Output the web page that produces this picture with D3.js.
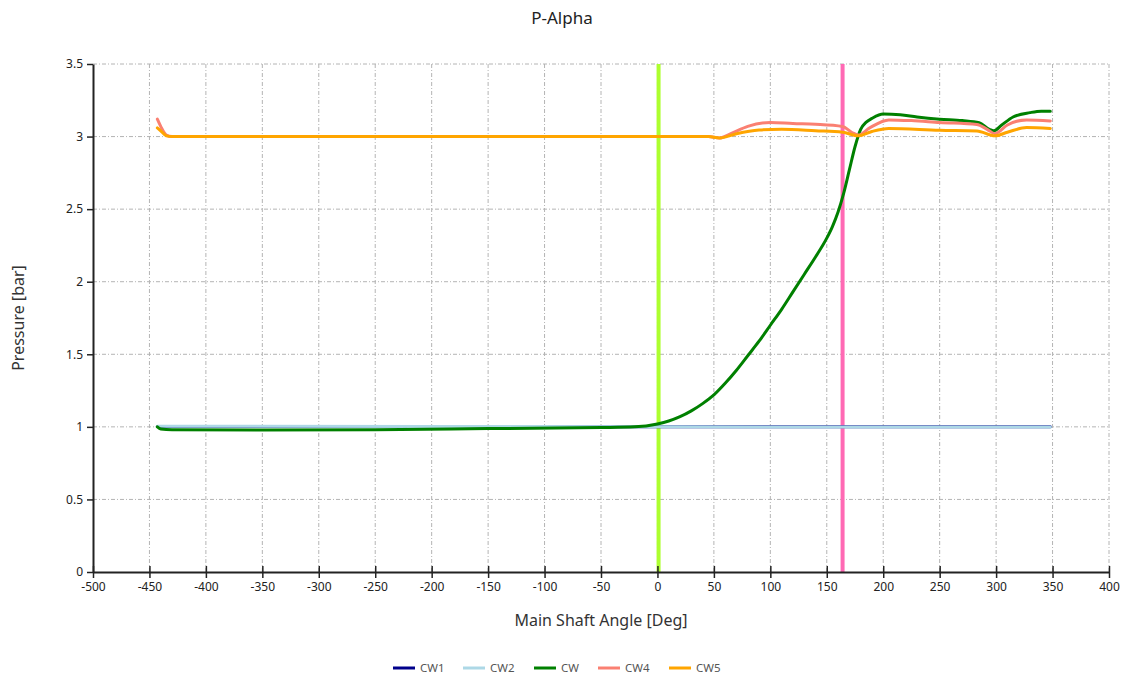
<!DOCTYPE html>
<html>
<head>
<meta charset="utf-8">
<script src="https://cdn.jsdelivr.net/npm/d3@7"></script>
<style>
  body { margin: 0; background: #fff; font-family: "Noto Sans", "Open Sans", sans-serif; }
</style>
</head>
<body>
<div id="chart"></div>
<script>
// data
const cw1Angle = [-443, -200, 0, 200, 348];
const cw1Value = [1.003, 1.002, 1.0, 1.0, 1.0];

const cw2Angle = [-443, -200, 0, 200, 348];
const cw2Value = [1.005, 1.003, 1.0, 0.999, 0.999];

const cwAngle = [-443, -440, -430, -350, -250, -150, -50, -20, 0, 10, 20, 30, 40, 50, 60, 70, 80, 90, 100, 110, 120, 130, 140, 150, 155, 160, 165, 170, 175, 180, 185, 190, 200, 215, 230, 250, 270, 285, 294, 298, 305, 315, 330, 340, 348];
const cwValue = [1.0, 0.985, 0.98, 0.978, 0.98, 0.988, 0.995, 1.0, 1.02, 1.04, 1.07, 1.11, 1.16, 1.22, 1.3, 1.39, 1.49, 1.59, 1.7, 1.81, 1.93, 2.05, 2.17, 2.3, 2.38, 2.48, 2.61, 2.77, 2.93, 3.05, 3.1, 3.125, 3.155, 3.15, 3.135, 3.12, 3.11, 3.095, 3.05, 3.04, 3.08, 3.135, 3.165, 3.175, 3.175];

const cw4Angle = [-443, -440, -435, -430, 45, 55, 65, 80, 100, 120, 140, 164, 172, 178, 188, 205, 225, 250, 283, 292, 299, 310, 327, 348];
const cw4Value = [3.12, 3.07, 3.01, 3.0, 3.0, 2.99, 3.02, 3.07, 3.097, 3.09, 3.085, 3.07, 3.03, 3.01, 3.06, 3.115, 3.11, 3.097, 3.083, 3.05, 3.02, 3.08, 3.115, 3.108];

const cw5Angle = [-443, -440, -435, -430, 45, 55, 70, 90, 110, 140, 164, 178, 190, 205, 250, 283, 299, 310, 327, 348];
const cw5Value = [3.06, 3.04, 3.005, 3.0, 3.0, 2.99, 3.02, 3.045, 3.05, 3.04, 3.03, 3.005, 3.035, 3.056, 3.044, 3.039, 3.005, 3.03, 3.062, 3.056];

const seriesNames = ["CW1", "CW2", "CW", "CW4", "CW5"];
const seriesColors = ["#00008b", "#add8e6", "#008000", "#fa8072", "#ffa500"];

const markerAngles = [1, 164];
const markerColors = ["#adff2f", "#ff69b4"];

const xTicks = d3.range(-500, 401, 50);
const yTicks = [0, 0.5, 1, 1.5, 2, 2.5, 3, 3.5];

const series = [
  { name: seriesNames[0], color: seriesColors[0], pts: cw1Angle.map((a, i) => ({ a, v: cw1Value[i] })) },
  { name: seriesNames[1], color: seriesColors[1], pts: cw2Angle.map((a, i) => ({ a, v: cw2Value[i] })) },
  { name: seriesNames[2], color: seriesColors[2], pts: cwAngle.map((a, i) => ({ a, v: cwValue[i] })) },
  { name: seriesNames[3], color: seriesColors[3], pts: cw4Angle.map((a, i) => ({ a, v: cw4Value[i] })) },
  { name: seriesNames[4], color: seriesColors[4], pts: cw5Angle.map((a, i) => ({ a, v: cw5Value[i] })) }
];

const W = 1125, H = 680;
const margin = { top: 64, right: 16, bottom: 108, left: 93 };
const width = W - margin.left - margin.right;
const height = H - margin.top - margin.bottom;

const svgRoot = d3.select("#chart").append("svg")
  .attr("width", W)
  .attr("height", H);

svgRoot.append("text")
  .attr("x", 562)
  .attr("y", 24)
  .attr("text-anchor", "middle")
  .style("font-size", "17px")
  .style("fill", "#222")
  .text("P-Alpha");

const svg = svgRoot.append("g")
  .attr("transform", `translate(${margin.left},${margin.top})`);

const x = d3.scaleLinear().domain([-500, 400]).range([0, width]);
const y = d3.scaleLinear().domain([0, 3.5]).range([height, 0]);

// grid
svg.append("g")
  .selectAll("line")
  .data(xTicks.slice(1))
  .enter()
  .append("line")
  .attr("x1", d => x(d)).attr("x2", d => x(d))
  .attr("y1", 0).attr("y2", height)
  .attr("stroke", "#b4b4b4")
  .attr("stroke-dasharray", "4,2,1,2");

svg.append("g")
  .selectAll("line")
  .data(yTicks.slice(1))
  .enter()
  .append("line")
  .attr("x1", 0).attr("x2", width)
  .attr("y1", d => y(d)).attr("y2", d => y(d))
  .attr("stroke", "#b4b4b4")
  .attr("stroke-dasharray", "4,2,1,2");

// marker lines
markerAngles.forEach((a, i) => {
  svg.append("line")
    .attr("x1", x(a)).attr("x2", x(a))
    .attr("y1", 0).attr("y2", height)
    .attr("stroke", markerColors[i])
    .attr("stroke-width", 4);
});

// axes
const xAxis = svg.append("g")
  .attr("transform", `translate(0,${height})`)
  .call(d3.axisBottom(x).tickValues(xTicks).tickSize(6).tickSizeOuter(0).tickFormat(d => String(d)));

const yAxis = svg.append("g")
  .call(d3.axisLeft(y).tickValues(yTicks).tickSize(6).tickSizeOuter(0).tickFormat(d => String(d)));

[xAxis, yAxis].forEach(g => {
  g.select(".domain").attr("stroke", "#222").attr("stroke-width", 2);
  g.selectAll(".tick line").attr("stroke", "#222").attr("stroke-width", 1.5);
  g.selectAll(".tick text")
    .style("font-size", "12px")
    .style("font-family", "'Noto Sans', sans-serif")
    .attr("fill", "#222");
});
xAxis.selectAll(".tick line").attr("y1", -6).attr("y2", 6);
xAxis.selectAll(".tick text").attr("y", 10);
yAxis.selectAll(".tick text").attr("x", -10);

// series
const line = d3.line()
  .x(d => x(d.a))
  .y(d => y(d.v))
  .curve(d3.curveMonotoneX);

series.forEach(s => {
  svg.append("path")
    .datum(s.pts)
    .attr("fill", "none")
    .attr("stroke", s.color)
    .attr("stroke-width", 3)
    .attr("stroke-linejoin", "round")
    .attr("stroke-linecap", "round")
    .attr("d", line);
});

// axis titles
svgRoot.append("text")
  .attr("x", 601)
  .attr("y", 626)
  .attr("text-anchor", "middle")
  .style("font-size", "16px")
  .style("fill", "#333")
  .text("Main Shaft Angle [Deg]");

svgRoot.append("text")
  .attr("transform", `translate(24,${margin.top + height / 2}) rotate(-90)`)
  .attr("text-anchor", "middle")
  .style("font-size", "16px")
  .style("fill", "#333")
  .text("Pressure [bar]");

// legend
const legendX = [393, 463, 534, 598, 669];
const legend = svgRoot.append("g");
series.forEach((s, i) => {
  legend.append("line")
    .attr("x1", legendX[i]).attr("x2", legendX[i] + 22)
    .attr("y1", 668).attr("y2", 668)
    .attr("stroke", s.color)
    .attr("stroke-width", 3);
  legend.append("text")
    .attr("x", legendX[i] + 27)
    .attr("y", 672)
    .style("font-size", "11.5px")
    .style("fill", "#555")
    .text(s.name);
});
</script>
</body>
</html>
